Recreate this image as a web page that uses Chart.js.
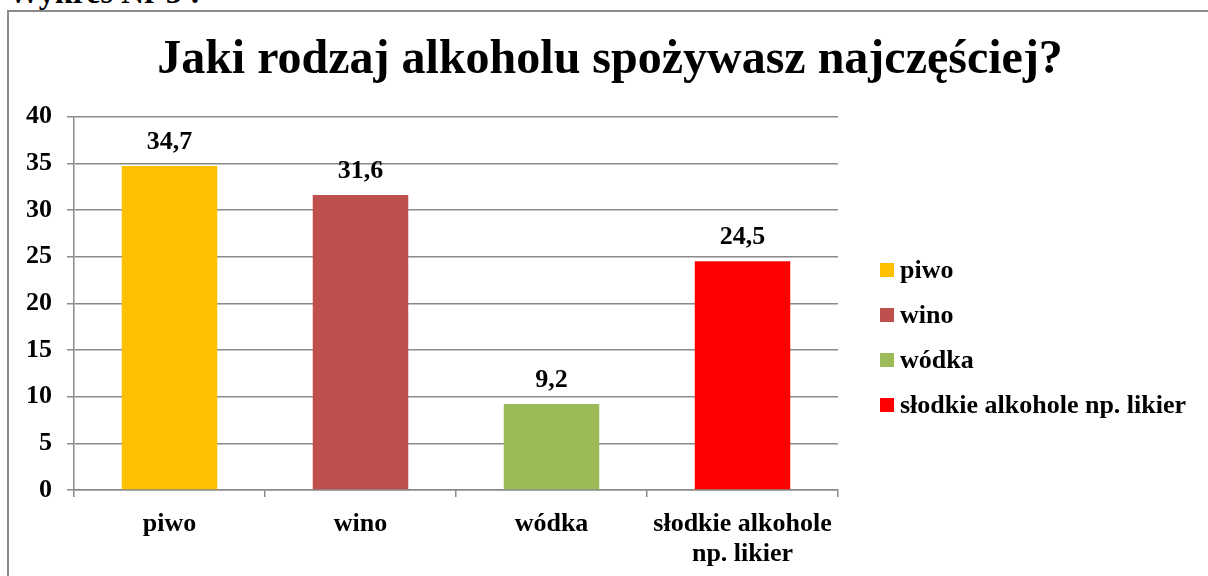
<!DOCTYPE html>
<html lang="pl">
<head>
<meta charset="utf-8">
<title>Jaki rodzaj alkoholu spożywasz najczęściej?</title>
<script src="https://cdn.jsdelivr.net/npm/chart.js@4.4.1/dist/chart.umd.min.js"></script>
<style>
  html, body { margin: 0; padding: 0; background: #fff; overflow: hidden; }
  body { width: 1208px; height: 576px; position: relative; font-family: "Liberation Serif", "DejaVu Serif", serif; }
  #naglowek { position: absolute; left: 8px; top: -24px; font-size: 32px; line-height: 32px; font-weight: bold; color: #000; white-space: nowrap; }
  #ramka { position: absolute; left: 7px; top: 10px; width: 1300px; height: 700px; border-left: 2px solid #8a8a8a; border-top: 2px solid #8a8a8a; }
  #wykres { position: absolute; left: 0; top: 0; }
  #legenda { position: absolute; left: 880px; top: 247px; }
  .poz { height: 45px; display: flex; align-items: center; font-size: 26px; font-weight: bold; color: #000; white-space: nowrap; }
  .kw { width: 14px; height: 14px; margin-right: 6px; flex: none; }
</style>
</head>
<body>
<div id="naglowek">Wykres Nr 5 :</div>
<div id="ramka"></div>
<canvas id="wykres" width="1208" height="576"></canvas>
<div id="legenda"></div>
<script>
// ========== DANE ==========
const kategorie = ['piwo', 'wino', 'wódka', 'słodkie alkohole np. likier'];
const etykietyOsi = ['piwo', 'wino', 'wódka', ['słodkie alkohole', 'np. likier']];
const wartosci = [34.7, 31.6, 9.2, 24.5];
const kolory = ['#FFC000', '#C0504D', '#9BBB59', '#FF0000'];
const tytul = 'Jaki rodzaj alkoholu spożywasz najczęściej?';

const FONT = '"Liberation Serif", "Times New Roman", serif';
const SZARY = '#8a8a8a';

// ========== LEGENDA ==========
const legendaEl = document.getElementById('legenda');
legendaEl.innerHTML = kategorie.map((k, i) =>
    `<div class="poz"><span class="kw" style="background:${kolory[i]}"></span>${k}</div>`
).join('');

// etykiety wartosci nad slupkami
const etykietyWartosci = {
    id: 'etykietyWartosci',
    afterDatasetsDraw(chart) {
        const ctx = chart.ctx;
        const meta = chart.getDatasetMeta(0);
        ctx.save();
        ctx.font = `bold 26px ${FONT}`;
        ctx.fillStyle = '#000';
        ctx.textAlign = 'center';
        ctx.textBaseline = 'alphabetic';
        meta.data.forEach((bar, i) => {
            ctx.fillText(wartosci[i].toFixed(1).replace('.', ','), bar.x, bar.y - 17);
        });
        ctx.restore();
    }
};

// ========== WYKRES ==========
new Chart(document.getElementById('wykres'), {
    type: 'bar',
    data: {
        labels: etykietyOsi,
        datasets: [{
            data: wartosci,
            backgroundColor: kolory,
            borderWidth: 0,
            categoryPercentage: 1,
            barPercentage: 0.5
        }]
    },
    options: {
        responsive: false,
        animation: false,
        layout: { padding: { left: 12, top: 0, right: 0, bottom: 0 } },
        plugins: {
            legend: { display: false },
            tooltip: { enabled: false },
            title: {
                display: true,
                text: tytul,
                color: '#000',
                font: { family: FONT, size: 48, weight: 'bold', lineHeight: 1.2 },
                padding: { top: 32, bottom: 27 }
            }
        },
        scales: {
            x: {
                grid: { display: true, drawOnChartArea: false, drawTicks: true, tickLength: 7, offset: true, color: SZARY, lineWidth: 1.5 },
                border: { color: SZARY, width: 1.5 },
                ticks: {
                    color: '#000',
                    padding: 12,
                    maxRotation: 0,
                    autoSkip: false,
                    font: { family: FONT, size: 26, weight: 'bold', lineHeight: 1.15 }
                },
                afterFit(s) { s.height = 86; }
            },
            y: {
                min: 0,
                max: 40,
                ticks: {
                    stepSize: 5,
                    color: '#000',
                    padding: 15,
                    font: { family: FONT, size: 26, weight: 'bold' }
                },
                grid: { color: SZARY, lineWidth: 1.5, tickLength: 7 },
                border: { color: SZARY, width: 1.5 },
                afterFit(s) { s.width = 62; }
            },
            // pusta os po prawej - miejsce na legende
            prawa: {
                type: 'linear',
                position: 'right',
                grid: { display: false },
                border: { display: false },
                ticks: { display: false },
                afterFit(s) { s.width = 370; }
            }
        }
    },
    plugins: [etykietyWartosci]
});
</script>
</body>
</html>
